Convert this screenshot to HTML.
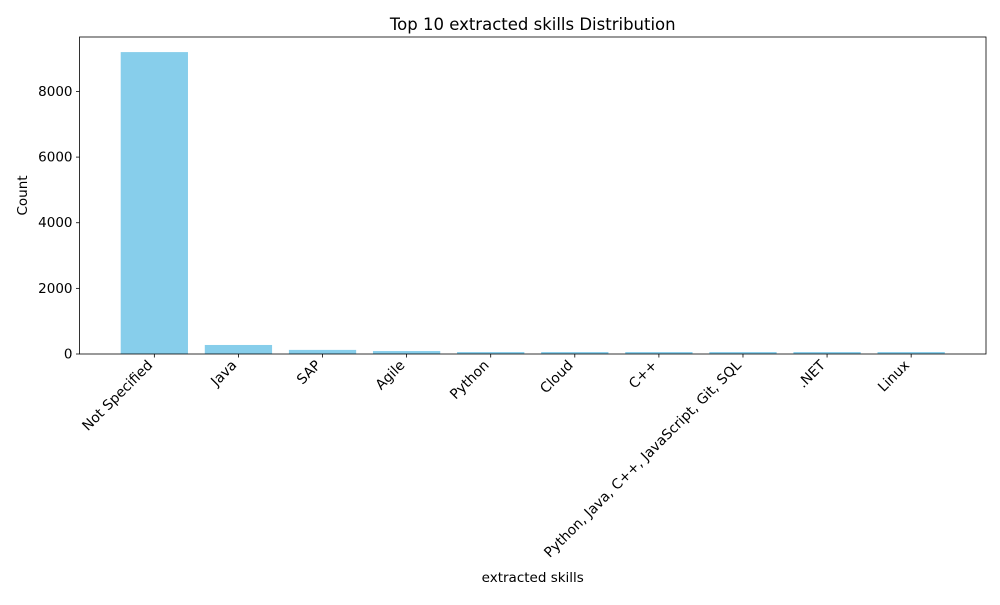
<!DOCTYPE html>
<html><head><meta charset="utf-8"><style>body{margin:0;background:#fff}svg{font-family:"DejaVu Sans","Liberation Sans",sans-serif}</style></head>
<body>
<svg id="c" width="1000" height="600"></svg>
<script>
const categories=["Not Specified","Java","SAP","Agile","Python","Cloud","C++","Python, Java, C++, JavaScript, Git, SQL",".NET","Linux"];
const counts=[9200,275,125,90,60,60,60,60,60,60];
const yTicks=[0,2000,4000,6000,8000];
const L=79.5,R=986,T=37,B=354;
const n=categories.length;
const xmin=-0.89,xmax=n-1+0.89;
const ymax=Math.max(...counts)*1.05;
const x=i=>L+(i-xmin)/(xmax-xmin)*(R-L);
const y=v=>B-v/ymax*(B-T);
const bw=0.8*(R-L)/(xmax-xmin);
const s=document.getElementById('c');const NS="http://www.w3.org/2000/svg";
function mk(t,a,txt){const e=document.createElementNS(NS,t);for(const k in a)e.setAttribute(k,a[k]);if(txt!==undefined)e.textContent=txt;s.appendChild(e);return e;}
counts.forEach((v,i)=>{const r=mk('rect',{x:x(i)-bw/2,y:y(v),width:bw,height:B-y(v),fill:'#87ceeb'});


mk('line',{x1:x(i),x2:x(i),y1:B,y2:B+3.5,stroke:'#000','stroke-width':0.8});
const tx=x(i)-1,ty=B+12;
const t=mk('text',{x:tx,y:ty,'text-anchor':'end','font-size':13.9,transform:`rotate(-45 ${tx} ${ty})`},categories[i]);

});
yTicks.forEach(v=>{mk('line',{x1:L-3.5,x2:L,y1:y(v),y2:y(v),stroke:'#000','stroke-width':0.8});
const t=mk('text',{x:L-7,y:y(v)+4.5,'text-anchor':'end','font-size':13.5},v);

});
const f=mk('rect',{x:L,y:T,width:R-L,height:B-T,fill:'none',stroke:'#000','stroke-width':0.8});


const ti=mk('text',{x:(L+R)/2,y:T-7,'text-anchor':'middle','font-size':16.5},'Top 10 extracted skills Distribution');


const xl=mk('text',{x:(L+R)/2,y:582,'text-anchor':'middle','font-size':13.5},'extracted skills');


const yl=mk('text',{x:27,y:(T+B)/2,'text-anchor':'middle','font-size':13.5,transform:`rotate(-90 27 ${(T+B)/2})`},'Count');


</script>
</body></html>
